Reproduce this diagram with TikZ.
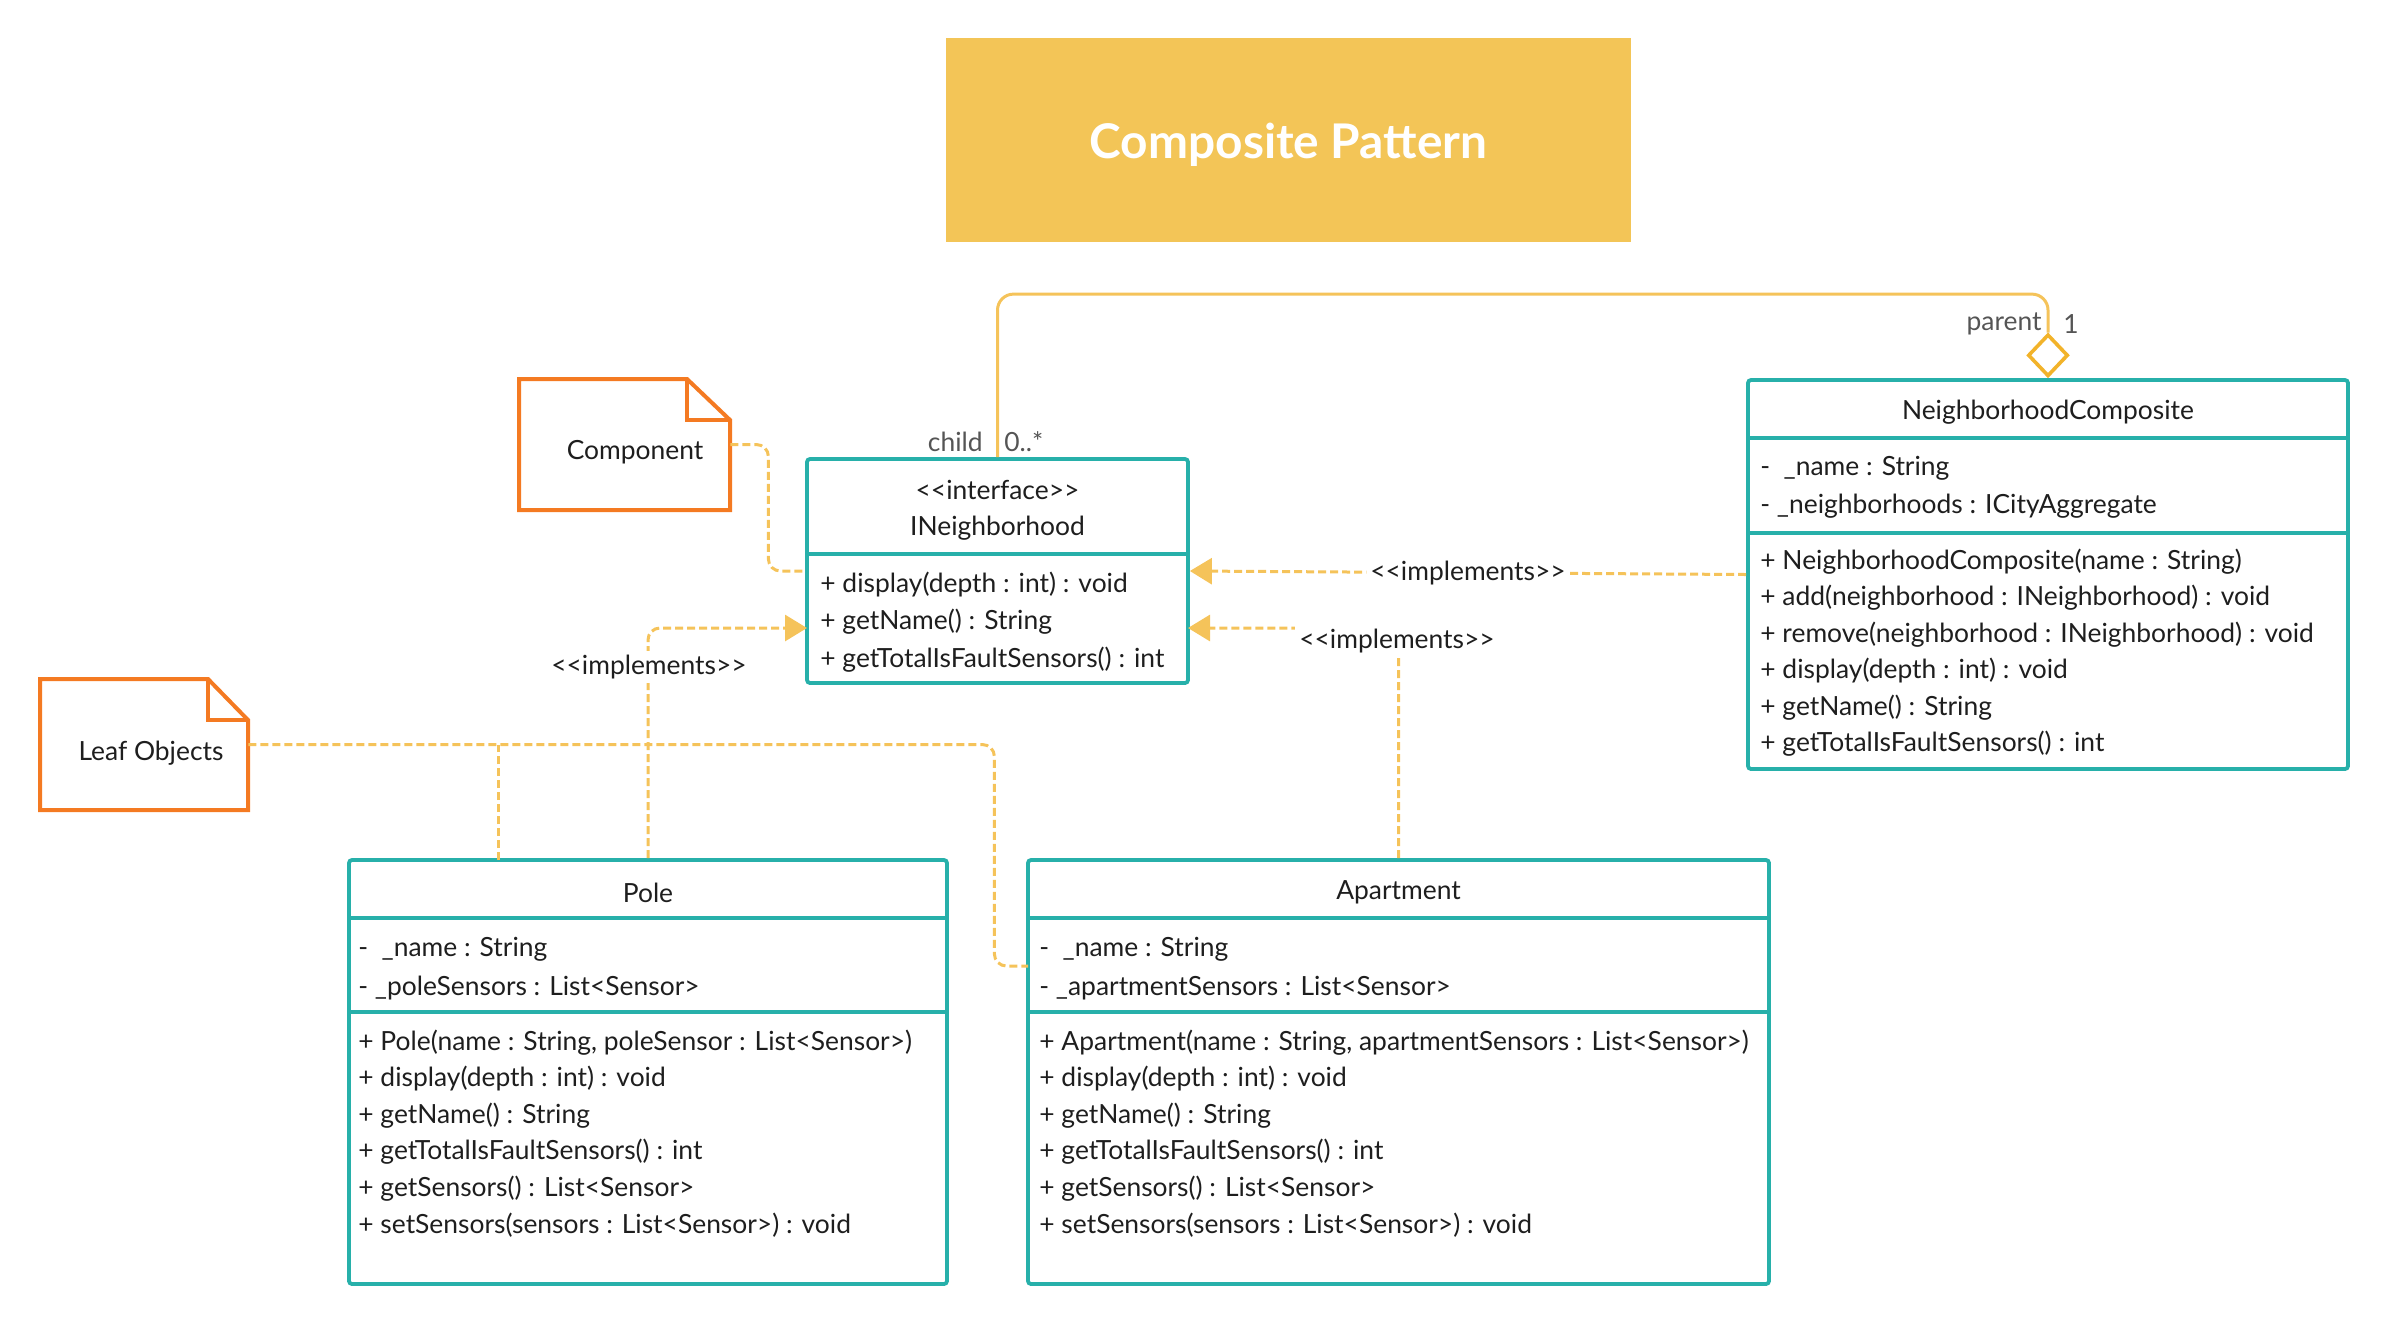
\documentclass[tikz,border=0pt]{standalone}
\usepackage{fontspec}
\newfontfamily\lato{Lato}
\usetikzlibrary{arrows.meta,fit,shapes.geometric}
\definecolor{tealc}{HTML}{27B0AA}
\definecolor{orng}{HTML}{F47A22}
\definecolor{ylw}{HTML}{F5C35A}
\definecolor{ttlc}{HTML}{F3C557}
\definecolor{dia}{HTML}{F2B32A}
\definecolor{txtc}{HTML}{1E1E1E}
\definecolor{rolec}{HTML}{555555}
\begin{document}
\begin{tikzpicture}[x=0.5pt,y=-0.5pt,
  font=\lato\fontsize{13.2}{15}\selectfont,
  classbox/.style={draw=tealc, line width=1.9pt, rounded corners=1.5pt, inner sep=0pt},
  divider/.style={draw=tealc, line width=1.9pt},
  notebox/.style={draw=orng, line width=2pt, line join=miter},
  mem/.style={anchor=west, inner sep=0pt, text=txtc, yshift=-1.2pt},
  cname/.style={inner sep=0pt, text=txtc, yshift=-1.2pt},
  role/.style={inner sep=0pt, text=rolec, yshift=-1pt},
  dep/.style={draw=ylw, line width=1.5pt, dash pattern=on 4pt off 2pt, rounded corners=6pt},
  impl/.style={dep, -{Triangle[length=11pt,width=13pt,fill=ylw]}},
  assoc/.style={draw=ylw, line width=1.5pt, rounded corners=8pt},
  lbl/.style={fill=white, inner sep=2pt, text=txtc}]
\useasboundingbox (0,0) rectangle (2389,1324);

% ---------- title ----------
\coordinate (t1) at (946,38); \coordinate (t2) at (1631,242);
\node[fit=(t1)(t2), inner sep=0pt, fill=ttlc] (title) {};
\node[text=white, font=\lato\bfseries\fontsize{23.9}{28}\selectfont] (titletext) at (1288.5,145) {Composite Pattern};

% ---------- INeighborhood ----------
\coordinate (i1) at (807,459); \coordinate (i2) at (1188,683);
\node[classbox, fit=(i1)(i2)] (ineigh) {};
\draw[divider] (807,554) -- (1188,554);
\node[cname] (ineigh-st) at (997.5,488) {<<interface>>};
\node[cname] (ineigh-n) at (997.5,526) {INeighborhood};
\node[mem] (ineigh-m1) at (820,582) {+ display(depth : int) : void};
\node[mem] (ineigh-m2) at (820,619) {+ getName() : String};
\node[mem] (ineigh-m3) at (820,657) {+ getTotalIsFaultSensors() : int};

% ---------- NeighborhoodComposite ----------
\coordinate (n1) at (1748,380); \coordinate (n2) at (2348,769);
\node[classbox, fit=(n1)(n2)] (nc) {};
\draw[divider] (1748,438) -- (2348,438);
\draw[divider] (1748,533) -- (2348,533);
\node[cname] (nc-n) at (2048,410) {NeighborhoodComposite};
\node[mem] (nc-a1) at (1760,466) {-\ \ \_name : String};
\node[mem] (nc-a2) at (1760,504) {- \_neighborhoods : ICityAggregate};
\node[mem] (nc-m1) at (1760,559) {+ NeighborhoodComposite(name : String)};
\node[mem] (nc-m2) at (1760,595.5) {+ add(neighborhood : INeighborhood) : void};
\node[mem] (nc-m3) at (1760,632) {+ remove(neighborhood : INeighborhood) : void};
\node[mem] (nc-m4) at (1760,668.5) {+ display(depth : int) : void};
\node[mem] (nc-m5) at (1760,705) {+ getName() : String};
\node[mem] (nc-m6) at (1760,741.5) {+ getTotalIsFaultSensors() : int};

% ---------- Pole ----------
\coordinate (p1) at (349,860); \coordinate (p2) at (947,1284);
\node[classbox, fit=(p1)(p2)] (pole) {};
\draw[divider] (349,918) -- (947,918);
\draw[divider] (349,1012) -- (947,1012);
\node[cname] (pole-n) at (648,890) {Pole};
\node[mem] (pole-a1) at (358,947) {-\ \ \_name : String};
\node[mem] (pole-a2) at (358,986) {- \_poleSensors : List<Sensor>};
\node[mem] (pole-m1) at (358,1040) {+ Pole(name : String, poleSensor : List<Sensor>)};
\node[mem] (pole-m2) at (358,1076.5) {+ display(depth : int) : void};
\node[mem] (pole-m3) at (358,1113) {+ getName() : String};
\node[mem] (pole-m4) at (358,1149.5) {+ getTotalIsFaultSensors() : int};
\node[mem] (pole-m5) at (358,1186) {+ getSensors() : List<Sensor>};
\node[mem] (pole-m6) at (358,1222.5) {+ setSensors(sensors : List<Sensor>) : void};

% ---------- Apartment ----------
\coordinate (a1) at (1028,860); \coordinate (a2) at (1769,1284);
\node[classbox, fit=(a1)(a2)] (apt) {};
\draw[divider] (1028,918) -- (1769,918);
\draw[divider] (1028,1012) -- (1769,1012);
\node[cname] (apt-n) at (1398.5,890) {Apartment};
\node[mem] (apt-a1) at (1039,947) {-\ \ \_name : String};
\node[mem] (apt-a2) at (1039,986) {- \_apartmentSensors : List<Sensor>};
\node[mem] (apt-m1) at (1039,1040) {+ Apartment(name : String, apartmentSensors : List<Sensor>)};
\node[mem] (apt-m2) at (1039,1076.5) {+ display(depth : int) : void};
\node[mem] (apt-m3) at (1039,1113) {+ getName() : String};
\node[mem] (apt-m4) at (1039,1149.5) {+ getTotalIsFaultSensors() : int};
\node[mem] (apt-m5) at (1039,1186) {+ getSensors() : List<Sensor>};
\node[mem] (apt-m6) at (1039,1222.5) {+ setSensors(sensors : List<Sensor>) : void};

% ---------- notes ----------
\coordinate (c1) at (519,379); \coordinate (c2) at (730,510);
\node[fit=(c1)(c2), inner sep=0pt] (comp) {};
\draw[notebox] (519,379) -- (687,379) -- (730,420) -- (730,510) -- (519,510) -- cycle;
\draw[notebox] (687,379) -- (687,420) -- (730,420);
\node[cname] (comp-t) at (635,450) {Component};

\coordinate (l1) at (40,679); \coordinate (l2) at (248,810);
\node[fit=(l1)(l2), inner sep=0pt] (leaf) {};
\draw[notebox] (40,679) -- (208,679) -- (248,720) -- (248,810) -- (40,810) -- cycle;
\draw[notebox] (208,679) -- (208,720) -- (248,720);
\node[cname] (leaf-t) at (151,751) {Leaf Objects};

% ---------- connection points ----------
\coordinate (inL) at (807,628);
\coordinate (inR) at (1188,628);
\coordinate (poleIn) at (498,860);
\coordinate (aptIn) at (1028,966);

% ---------- association ----------
\node[diamond, draw=dia, line width=1.8pt, fill=white, aspect=0.95,
      minimum width=20pt, minimum height=21pt, inner sep=0pt, anchor=south] (dmd) at (nc.north) {};
\draw[assoc] (ineigh.north) -- ++(0,-163) -| (dmd.north);
\node[role, anchor=east] (child) at (983,440) {child};
\node[role, anchor=west] (mchild) at (1004,440) {0..*};
\node[role, anchor=east] (parent) at (2042,322) {parent};
\node[role, anchor=west] (mparent) at (2063,322) {1};

% ---------- dependencies ----------
\draw[dep] (comp.east) -- ++(38,0) |- (ineigh.west);
\draw[dep] (leaf.east) -- ++(746,0) |- (aptIn);
\draw[dep] (poleIn) -- (poleIn |- leaf.east);

% ---------- implements ----------
\draw[impl] (nc.west) -- node[lbl] (impl1) {<<implements>>} (ineigh.east);
\draw[impl] (apt.north) |- (inR);
\node[lbl] (impl2) at (1397,641) {<<implements>>};
\draw[impl] (pole.north) |- (inL);
\node[lbl] (impl3) at (649,667) {<<implements>>};
\end{tikzpicture}
\end{document}
